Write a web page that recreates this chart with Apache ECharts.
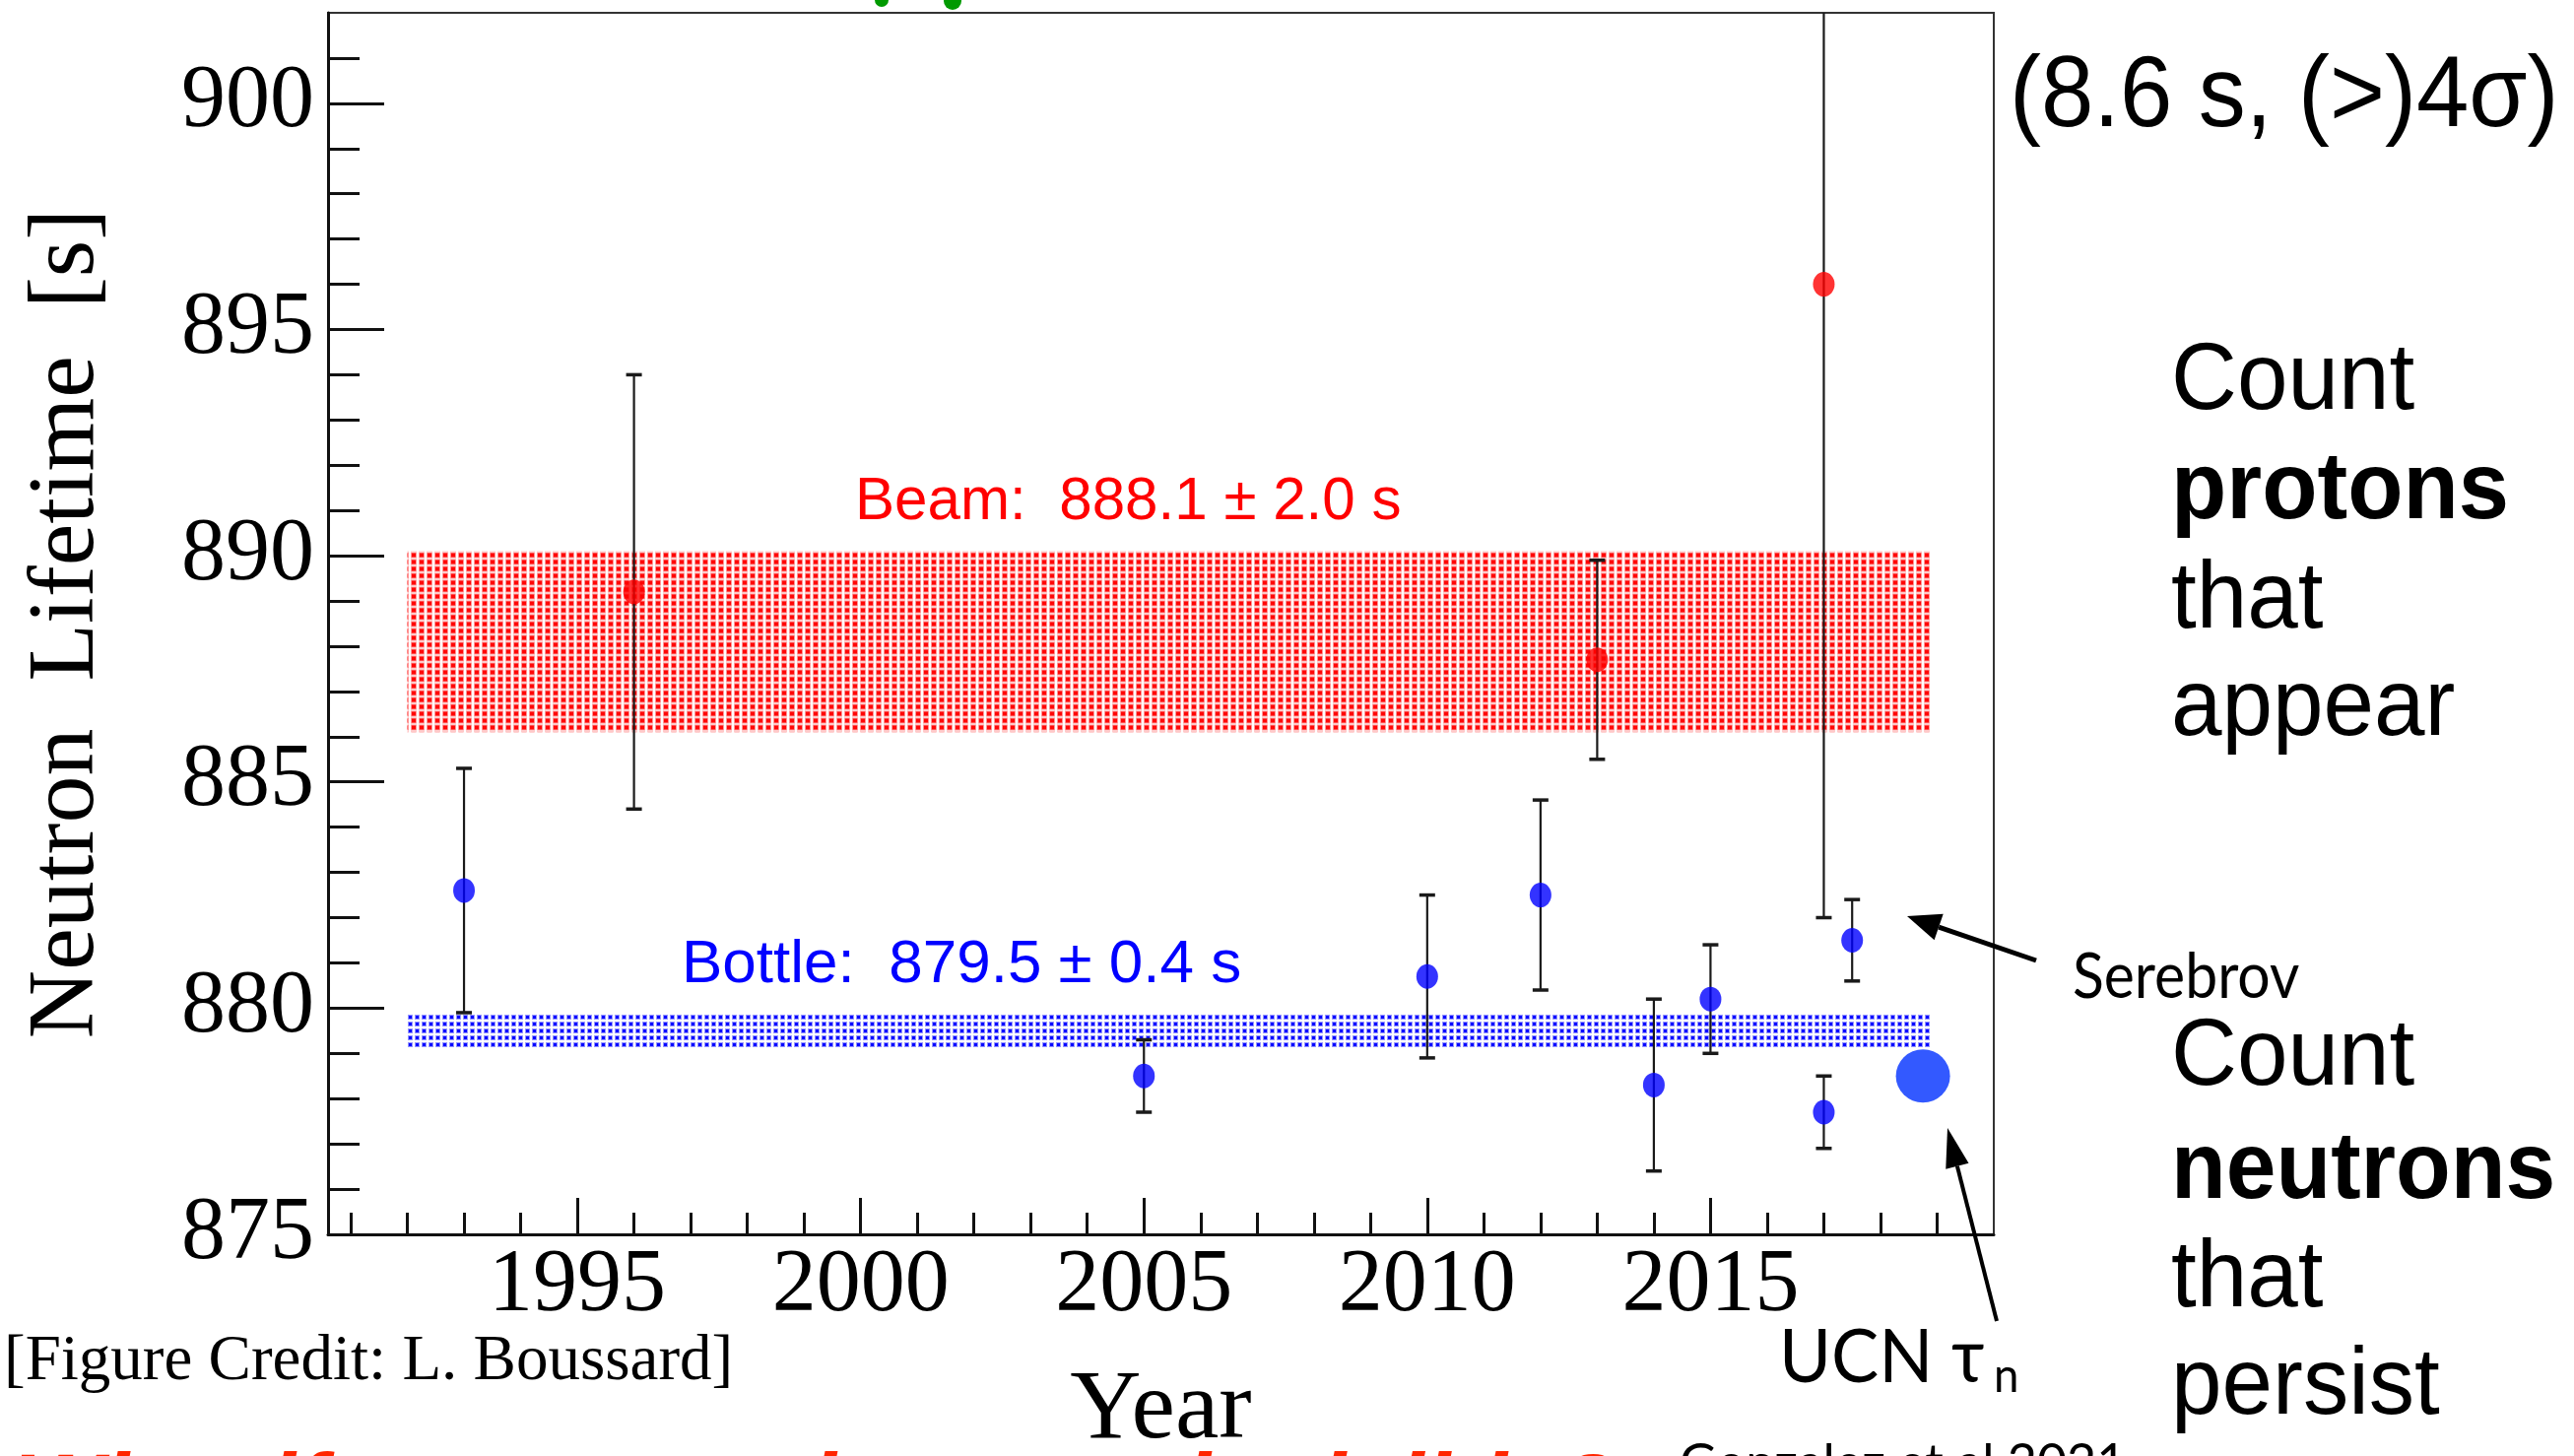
<!DOCTYPE html>
<html>
<head>
<meta charset="utf-8">
<title>Neutron Lifetime</title>
<script src="https://cdn.jsdelivr.net/npm/echarts@6/dist/echarts.min.js"></script>
<style>
  html, body { margin: 0; padding: 0; background: #fff; }
  #chart { width: 2613px; height: 1478px; }
</style>
</head>
<body>
<div id="chart"></div>
<script>
// bottle measurements (blue)
const bottleYears = [1993, 2005, 2010, 2012, 2014, 2015, 2017, 2017.5];
const bottleLifetimes = [882.6, 878.5, 880.7, 882.5, 878.3, 880.2, 877.7, 881.5];
const bottleErrors = [2.7, 0.8, 1.8, 2.1, 1.9, 1.2, 0.8, 0.9];

// beam measurements (red)
const beamYears = [1996, 2013, 2017];
const beamLifetimes = [889.2, 887.7, 896.0];
const beamErrors = [4.8, 2.2, 14.0];

// UCN tau_n point drawn on top of the figure
const ucnYears = [2018.75];
const ucnLifetimes = [878.5];

// averages shown as shaded bands
const bandNames = ["Beam", "Bottle"];
const bandMeans = [888.1, 879.5];
const bandErrors = [2.0, 0.4];
const bandYears = [1992, 2018.9];

// axis ticks
const xMajorTicks = [1995, 2000, 2005, 2010, 2015];
const xMinorTicks = [1991, 1992, 1993, 1994, 1996, 1997, 1998, 1999, 2001, 2002, 2003, 2004,
  2006, 2007, 2008, 2009, 2011, 2012, 2013, 2014, 2016, 2017, 2018, 2019];
const yMajorTicks = [875, 880, 885, 890, 895, 900];
const yMinorTicks = [876, 877, 878, 879, 881, 882, 883, 884, 886, 887, 888, 889,
  891, 892, 893, 894, 896, 897, 898, 899, 901];

const SERIF = "Liberation Serif";
const SANS = "Liberation Sans";
const HUMANIST = "Lato";

// small dotted tile, like the ROOT fill pattern
function dotPattern(w, h, halo, core, haloSize, coreSize) {
  const c = document.createElement("canvas");
  c.width = w;
  c.height = h;
  const ctx = c.getContext("2d");
  ctx.fillStyle = halo;
  ctx.fillRect((w - haloSize) / 2, (h - haloSize) / 2, haloSize, haloSize);
  ctx.fillStyle = core;
  ctx.fillRect((w - coreSize) / 2, (h - coreSize) / 2, coreSize, coreSize);
  return c;
}
const bandPatterns = [
  dotPattern(8, 7, "rgba(255,60,60,0.55)", "rgba(255,0,0,0.95)", 6, 4),
  dotPattern(7, 7, "rgba(60,60,255,0.55)", "rgba(0,0,255,0.95)", 5, 3),
];
const bandColors = ["#ff0000", "#0000ff"];

// error bar with caps
function renderErrorBar(params, api) {
  const x = api.value(0);
  const y = api.value(1);
  const e = api.value(2);
  const top = api.coord([x, y + e]);
  const bottom = api.coord([x, y - e]);
  const cap = 8;
  return {
    type: "group",
    children: [
      { type: "line", shape: { x1: top[0], y1: top[1], x2: bottom[0], y2: bottom[1] },
        style: { stroke: "#1a1a1a", lineWidth: 2.2 } },
      { type: "line", shape: { x1: top[0] - cap, y1: top[1], x2: top[0] + cap, y2: top[1] },
        style: { stroke: "#1a1a1a", lineWidth: 3.5 } },
      { type: "line", shape: { x1: bottom[0] - cap, y1: bottom[1], x2: bottom[0] + cap, y2: bottom[1] },
        style: { stroke: "#1a1a1a", lineWidth: 3.5 } },
    ],
  };
}

// shaded band between mean - err and mean + err
function renderBand(params, api) {
  const p0 = api.coord([api.value(0), api.value(2) + api.value(3)]);
  const p1 = api.coord([api.value(1), api.value(2) - api.value(3)]);
  return {
    type: "rect",
    shape: { x: p0[0], y: p0[1], width: p1[0] - p0[0], height: p1[1] - p0[1] },
    style: { fill: { image: bandPatterns[params.dataIndex], repeat: "repeat" } },
  };
}

function text(x, y, str, size, family, opts) {
  opts = opts || {};
  return {
    type: "text",
    x: x,
    y: y,
    scaleX: opts.scaleX || 1,
    rotation: opts.rotation || 0,
    z: 10,
    style: {
      text: str,
      fontSize: size,
      fontFamily: family,
      fontWeight: opts.weight || "normal",
      fontStyle: opts.style || "normal",
      fill: opts.color || "#000",
      align: opts.align || "left",
      verticalAlign: "middle",
    },
  };
}

function arrow(tail, tip, width, headLen, headHalf) {
  const dx = tip[0] - tail[0];
  const dy = tip[1] - tail[1];
  const len = Math.sqrt(dx * dx + dy * dy);
  const ux = dx / len, uy = dy / len;
  const bx = tip[0] - ux * headLen, by = tip[1] - uy * headLen;
  return [
    { type: "line", z: 10, shape: { x1: tail[0], y1: tail[1], x2: bx, y2: by },
      style: { stroke: "#000", lineWidth: width } },
    { type: "polygon", z: 10,
      shape: { points: [tip, [bx - uy * headHalf, by + ux * headHalf], [bx + uy * headHalf, by - ux * headHalf]] },
      style: { fill: "#000" } },
  ];
}

const bandLabel = (i) => bandNames[i] + ":  " + bandMeans[i].toFixed(1) + " \u00b1 " + bandErrors[i].toFixed(1) + " s";

const myChart = echarts.init(document.getElementById("chart"), null, { renderer: "canvas" });
window.onresize = () => {
  myChart.resize();
};

// plain numbers, no thousands separator
const tickLabel = { fontFamily: SERIF, fontSize: 90, color: "#000", lineHeight: 90,
  formatter: (v) => String(v) };

let option = {
  backgroundColor: "#fff",
  animation: false,
  grid: {
    left: 333,
    right: 589,
    top: 13,
    bottom: 225,
    containLabel: false,
    outerBoundsMode: "none",
    show: true,
    borderColor: "#333",
    borderWidth: 2,
    backgroundColor: "transparent",
  },
  xAxis: [
    {
      type: "value",
      position: "bottom",
      min: 1990.6,
      max: 2020,
      name: "Year",
      nameLocation: "middle",
      nameGap: 130,
      nameTextStyle: { fontFamily: SERIF, fontSize: 100, color: "#000" },
      axisLine: { show: true, onZero: false, lineStyle: { color: "#111", width: 3 } },
      axisTick: { show: true, inside: true, length: 37, customValues: xMajorTicks,
        lineStyle: { color: "#111", width: 3 } },
      axisLabel: { show: true, margin: 8, customValues: xMajorTicks, ...tickLabel },
      splitLine: { show: false },
    },
    {
      // yearly minor ticks
      type: "value",
      position: "bottom",
      min: 1990.6,
      max: 2020,
      axisLine: { show: false },
      axisTick: { show: true, inside: true, length: 22, customValues: xMinorTicks,
        lineStyle: { color: "#111", width: 3 } },
      axisLabel: { show: false },
      splitLine: { show: false },
    },
  ],
  yAxis: [
    {
      type: "value",
      position: "left",
      min: 875,
      max: 902,
      name: "Neutron  Lifetime  [s]",
      nameLocation: "middle",
      nameRotate: 90,
      nameGap: 216,
      nameTextStyle: { fontFamily: SERIF, fontSize: 96, color: "#000" },
      axisLine: { show: true, onZero: false, lineStyle: { color: "#111", width: 3 } },
      axisTick: { show: true, inside: true, length: 57, customValues: yMajorTicks,
        lineStyle: { color: "#111", width: 3 } },
      axisLabel: { show: true, margin: 14, customValues: yMajorTicks, ...tickLabel },
      splitLine: { show: false },
    },
    {
      // minor ticks every second
      type: "value",
      position: "left",
      min: 875,
      max: 902,
      axisLine: { show: false },
      axisTick: { show: true, inside: true, length: 32, customValues: yMinorTicks,
        lineStyle: { color: "#111", width: 3 } },
      axisLabel: { show: false },
      splitLine: { show: false },
    },
  ],
  series: [
    {
      type: "custom",
      name: "bands",
      z: 1,
      clip: true,
      encode: { x: [0, 1], y: 2 },
      data: bandMeans.map((m, i) => [bandYears[0], bandYears[1], m, bandErrors[i]]),
      renderItem: renderBand,
    },
    {
      type: "custom",
      name: "errors",
      z: 2,
      clip: true,
      encode: { x: 0, y: 1 },
      data: bottleYears.map((y, i) => [y, bottleLifetimes[i], bottleErrors[i]])
        .concat(beamYears.map((y, i) => [y, beamLifetimes[i], beamErrors[i]])),
      renderItem: renderErrorBar,
    },
    {
      type: "scatter",
      name: "Bottle",
      z: 3,
      symbol: "circle",
      symbolSize: [22, 25],
      itemStyle: { color: "#0000ff" },
      data: bottleYears.map((y, i) => [y, bottleLifetimes[i]]),
    },
    {
      type: "scatter",
      name: "Beam",
      z: 3,
      symbol: "circle",
      symbolSize: [22, 25],
      itemStyle: { color: "#ff0000" },
      data: beamYears.map((y, i) => [y, beamLifetimes[i]]),
    },
    {
      type: "scatter",
      name: "UCN",
      z: 4,
      clip: false,
      symbol: "circle",
      symbolSize: [55, 54],
      itemStyle: { color: "#0030ff" },
      data: ucnYears.map((y, i) => [y, ucnLifetimes[i]]),
    },
  ],
  graphic: [
    // band labels
    text(868, 510, bandLabel(0), 62, SANS, { color: bandColors[0], scaleX: 0.97 }),
    text(692, 980, bandLabel(1), 62, SANS, { color: bandColors[1], scaleX: 1.0 }),

    // slide text on the right
    text(2040, 100, "(8.6 s, (>)4\u03c3)", 102, SANS, { scaleX: 0.94 }),
    text(2204, 389, "Count", 96, SANS, { scaleX: 0.965 }),
    text(2204, 500, "protons", 96, SANS, { weight: "bold", scaleX: 0.96 }),
    text(2204, 611, "that", 96, SANS, { scaleX: 0.965 }),
    text(2204, 720, "appear", 96, SANS, { scaleX: 0.965 }),
    text(2204, 1075, "Count", 96, SANS, { scaleX: 0.965 }),
    text(2204, 1190, "neutrons", 96, SANS, { weight: "bold", scaleX: 0.95 }),
    text(2204, 1300, "that", 96, SANS, { scaleX: 0.965 }),
    text(2204, 1409, "persist", 96, SANS, { scaleX: 0.965 }),

    // annotations
    text(2104, 992, "Serebrov", 64, HUMANIST, { scaleX: 0.92 }),
    text(1806, 1378, "UCN \u03c4", 76, HUMANIST, { scaleX: 0.95 }),
    text(2024, 1398, "n", 48, HUMANIST, { scaleX: 0.95 }),
    ...arrow([2067, 975], [1936, 930], 5, 34, 14),
    ...arrow([2027, 1341], [1977, 1145], 4, 40, 12),

    text(4, 1383, "[Figure Credit: L. Boussard]", 65, SERIF),

    // bottom line, cut off by the slide edge
    text(15, 1516, "What if neutrons decay to invisible?", 95, SANS,
      { weight: "bold", style: "italic", color: "#ff2600" }),
    text(1705, 1486, "Gonzalez et al 2021", 52, HUMANIST),

    // tail of a green title cut off at the top
    { type: "circle", z: 10, shape: { cx: 895, cy: 0, r: 7 }, style: { fill: "#009a00" } },
    { type: "circle", z: 10, shape: { cx: 967, cy: 1, r: 9 }, style: { fill: "#009a00" } },
  ],
};

option && myChart.setOption(option);
</script>
</body>
</html>
